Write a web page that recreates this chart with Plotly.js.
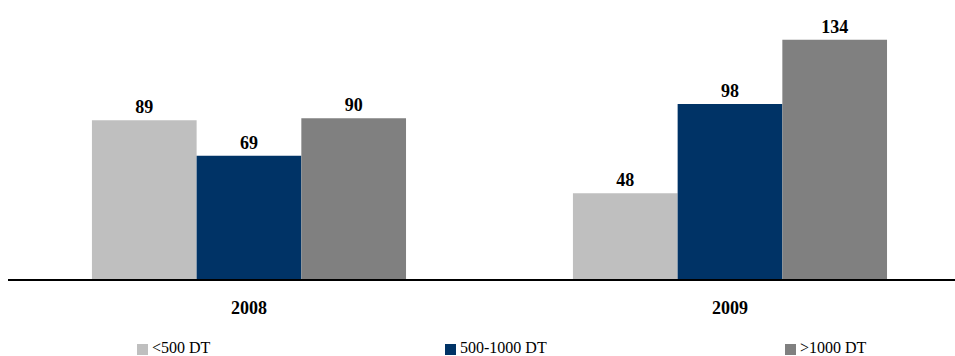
<!DOCTYPE html>
<html>
<head>
<meta charset="utf-8">
<script src="https://cdn.plot.ly/plotly-3.0.1.min.js"></script>
<style>html,body{margin:0;padding:0;background:#fff;}#chart{width:955px;height:356px;}</style>
</head>
<body>
<div id="chart"></div>
<script>
const categories = ["2008", "2009"];
const seriesNames = ["<500 DT", "500-1000 DT", ">1000 DT"];
const seriesLow = [89, 48];
const seriesMid = [69, 98];
const seriesHigh = [90, 134];
const seriesColors = ["#BFBFBF", "#003366", "#808080"];

const W = 955, H = 356;
const M = {l: 8, r: 0, t: 0, b: 77};
const plotW = W - M.l - M.r, plotH = H - M.t - M.b;
const px2paperX = p => (p - M.l) / plotW;
const px2paperY = p => (M.t + plotH - p) / plotH;
const FONT = "Liberation Serif, Times New Roman, serif";

const values = [seriesLow, seriesMid, seriesHigh];
const traces = values.map((v, i) => ({
  type: "bar",
  x: categories,
  y: v,
  name: seriesNames[i],
  marker: {color: seriesColors[i], line: {width: 0}},
  text: v.map(String),
  textposition: "outside",
  cliponaxis: false,
  textfont: {family: FONT, size: 18, color: "#000", weight: "bold"},
  showlegend: false,
  hoverinfo: "skip"
}));

// legend drawn as small squares + labels
const legendMarkerX = [137, 445, 785];
const shapes = [], annotations = [];
seriesNames.forEach((n, i) => {
  shapes.push({
    type: "rect", xref: "paper", yref: "paper",
    x0: px2paperX(legendMarkerX[i]), x1: px2paperX(legendMarkerX[i] + 11),
    y0: px2paperY(355), y1: px2paperY(344),
    fillcolor: seriesColors[i], line: {width: 0}
  });
  annotations.push({
    xref: "paper", yref: "paper",
    x: px2paperX(legendMarkerX[i] + 13), y: px2paperY(347),
    xanchor: "left", yanchor: "middle",
    text: n.replace(/&/g, "&amp;").replace(/</g, "&lt;").replace(/>/g, "&gt;"),
    showarrow: false,
    font: {family: FONT, size: 16, color: "#000"}
  });
});

const layout = {
  width: W, height: H,
  margin: M,
  paper_bgcolor: "#fff", plot_bgcolor: "#fff",
  showlegend: false,
  barmode: "group",
  bargap: 0.347,
  bargroupgap: 0,
  font: {family: FONT, color: "#000"},
  xaxis: {
    type: "category",
    range: [-0.501, 1.4678],
    showline: true, linecolor: "#000", linewidth: 2,
    ticks: "", showgrid: false, zeroline: false,
    tickfont: {family: FONT, size: 18, color: "#000", weight: "bold"},
    ticklabelstandoff: 11
  },
  yaxis: {
    range: [0, 156.3],
    showline: false, showgrid: false, zeroline: false,
    showticklabels: false, ticks: ""
  },
  shapes: shapes,
  annotations: annotations
};

Plotly.newPlot("chart", traces, layout, {displayModeBar: false, staticPlot: true});
</script>
</body>
</html>
